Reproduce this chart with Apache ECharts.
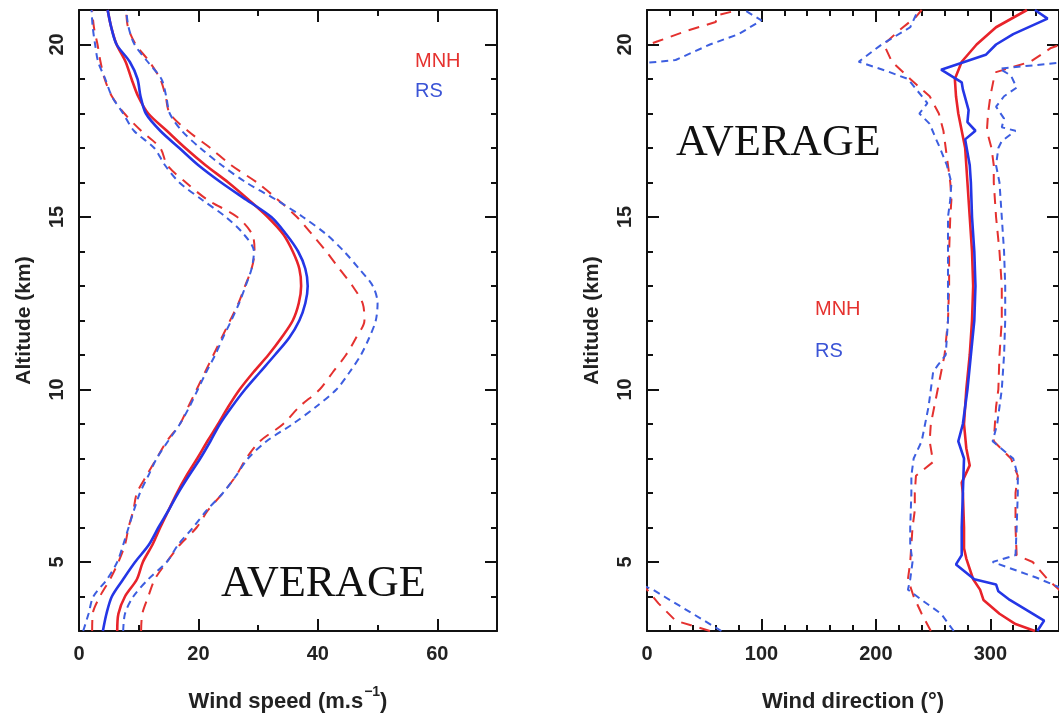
<!DOCTYPE html>
<html>
<head>
<meta charset="utf-8">
<script src="https://cdn.jsdelivr.net/npm/echarts@6/dist/echarts.min.js"></script>
<style>html,body{margin:0;padding:0;background:#fff}#c{width:1059px;height:718px}</style>
</head>
<body>
<div id="c"></div>
<script>
// ---------- Left panel: wind speed profiles (m/s) ----------
const altitudeLevels = [3,3.5,4,4.5,5,5.5,6,6.5,7,7.5,8,8.5,9,9.5,10,10.5,11,11.5,12,12.5,13,13.5,14,14.5,15,15.5,16,16.5,17,17.5,18,18.5,19,19.5,20,20.5,21];
const speedMnhMean = [6.4,6.6,7.7,9.7,10.7,12.3,13.6,15.0,16.4,18.0,19.8,21.5,23.3,25.0,26.9,29.2,31.7,33.9,35.8,36.8,37.2,36.9,35.8,34.2,31.6,28.4,25.0,21.2,17.8,14.7,11.6,9.9,8.8,7.8,6.3,5.4,4.8];
const speedRsMean  = [4.0,4.6,5.5,7.4,9.4,11.7,13.3,15.0,16.6,18.4,20.3,22.0,23.6,25.6,27.8,30.3,32.8,35.2,36.9,37.9,38.3,37.9,36.7,34.7,32.2,28.0,23.8,20.0,16.8,13.6,11.2,10.3,9.8,8.5,6.3,5.4,4.8];
const speedMnhLow  = [2.2,2.3,3.5,5.2,6.6,7.7,8.3,9.1,9.7,11.3,13.0,14.7,16.9,18.3,19.7,21.1,22.5,23.9,25.3,26.7,27.8,28.9,29.4,29.0,26.5,21.5,17.9,14.8,13.6,10.4,7.6,5.5,4.3,3.6,3.1,2.5,2.2];
const speedRsLow   = [0.7,1.6,2.4,4.7,6.4,7.4,8.3,9.2,10.2,11.6,13.0,14.9,16.9,18.5,19.9,21.3,22.8,24.1,25.5,26.8,27.9,28.9,29.3,27.6,24.6,20.6,16.8,14.4,12.6,9.2,7.4,5.5,4.4,3.2,2.7,2.3,2.1];
const speedMnhHigh = [10.4,10.6,11.6,12.7,14.7,16.9,19.7,21.6,24.1,26.3,28.0,30.3,34.2,36.9,40.3,42.5,44.7,46.4,47.8,47.5,45.8,43.6,41.4,39.0,36.5,33.3,29.8,25.5,22.0,18.2,15.2,14.5,13.6,11.8,9.5,8.2,7.9];
const speedRsHigh  = [7.4,7.7,9.1,11.6,14.7,16.6,19.1,21.4,24.1,26.3,28.3,31.4,35.8,39.7,43.1,45.3,47.2,48.6,49.7,50.0,49.2,46.9,44.4,41.4,37.5,33.0,28.0,23.9,20.3,17.2,15.2,14.6,13.8,11.5,9.3,8.3,7.9];

// ---------- Right panel: wind direction profiles (deg; values >360 wrap) ----------
const dirMnhMeanAlt = [3.0,3.2,3.5,3.9,4.2,4.5,5.1,5.4,6,7,7.3,7.8,8.3,9,10,11,12,13,14,15,16,17,18,18.5,19,19.5,20,20.5,21];
const dirMnhMean    = [339,322,308,294,291,285,279,277,277,276,275,282,279,277,279,282,284,285,284,282,280,278,272,270,269,275,288,305,332];
const dirRsMeanAlt  = [3.0,3.3,3.9,4.15,4.35,4.5,4.93,5.2,6,7,8,8.5,9,10,11,12,13,14,15,16,16.5,17.25,17.5,17.75,18.1,18.7,18.9,19.27,19.7,20.0,20.3,20.75,21];
const dirRsMean     = [341,347,317,307,305,286,270,275,275,276,277,272,276,280,283,286,287,286,284,283,282,278,287,280,281,276,275,257,296,305,320,350,339];
const dirMnhLowAlt  = [3.0,3.5,4.0,4.5,5,5.5,6,6.5,7,7.5,7.9,8.5,9,9.5,10,10.5,11,12,13,14,15,15.5,16,16.5,17,17.5,18,18.5,19,19.5,20.0,20.4,20.8,21];
const dirMnhLow     = [248,240,233,228,230,231,232,234,234,235,250,247,248,251,254,257,260,263,264,264,265,266,265,263,261,259,255,247,230,214,207,220,235,240];
const dirRsLowAlt   = [3.0,3.5,3.9,4.2,4.5,5,5.5,6,7,7.5,8,8.5,9,9.5,10,10.5,10.7,11,12,13,14,15,15.5,16,16.5,17,17.3,17.7,18.0,18.3,19.0,19.2,19.5,20.0,20.5,21];
const dirRsLow      = [268,257,240,228,230,232,230,230,231,231,233,240,243,246,248,250,254,261,263,263,263,263,265,266,262,256,252,247,238,245,228,212,185,205,230,237];
const dirMnhHighAlt = [3.0,3.3,3.8,4.2,4.5,5.0,5.2,6,7,7.5,8,8.5,9,9.5,10,11,12,13,14,15,16,16.5,17,17.5,18,18.5,19,19.2,19.5,19.9,20.1,20.4,20.65,20.85,21];
const dirMnhHigh    = [415,385,370,360,350,337,323,322,322,324,318,303,304,305,307,308,310,310,308,305,303,303,301,297,298,300,303,305,335,353,370,395,420,422,440];
const dirRsHighAlt  = [3.0,3.5,4.0,4.2,4.55,5.0,5.2,6,7,7.5,8,8.5,9,9.5,10,11,12,13,14,15,16,16.5,17,17.2,17.5,17.6,17.85,18.2,18.5,18.75,19.1,19.3,19.55,20.0,20.3,20.7,21];
const dirRsHigh     = [425,400,375,365,340,302,322,323,324,324,320,302,306,308,310,312,313,313,312,310,308,305,307,310,322,310,312,305,312,323,318,308,385,415,440,460,445];

// ---------- Tick labels ----------
const altitudeTicks = [5,10,15,20];
const speedTicks = [0,20,40,60];
const directionTicks = [0,100,200,300];

const RED = '#e8232a', BLUE = '#2436e6', RED_D = '#e4312f', BLUE_D = '#3d5ee0';
const AX = '#111';
const SANS = '"Liberation Sans", Arial, sans-serif';

function pairs(xs, alts, shift) { return xs.map((v, i) => [v - (shift || 0), alts[i]]); }

function xAxes(grid, max, step, ticks, nameRich) {
  const base = {gridIndex: grid, type: 'value', min: 0, max: max, splitLine: {show: false}};
  const line = {show: true, onZero: false, lineStyle: {color: AX, width: 2}};
  const noLine = {show: false, onZero: false};
  const tick = (len) => ({show: true, inside: true, length: len, lineStyle: {color: AX, width: 2}});
  return [
    Object.assign({}, base, {position: 'bottom', interval: step, axisLine: line, axisTick: tick(6), axisLabel: {show: false}}),
    Object.assign({}, base, {position: 'bottom', axisLine: noLine,
      axisTick: Object.assign(tick(12), {customValues: ticks}),
      axisLabel: {show: true, customValues: ticks, margin: 13, fontSize: 20, fontWeight: 'bold', color: '#222', fontFamily: SANS},
      name: nameRich, nameLocation: 'middle', nameGap: 54,
      nameTextStyle: {rich: {
        a: {fontSize: 22, fontWeight: 'bold', color: '#222', fontFamily: SANS, verticalAlign: 'bottom', lineHeight: 28},
        s: {fontSize: 14, fontWeight: 'bold', color: '#222', fontFamily: SANS, verticalAlign: 'top', lineHeight: 28, padding: [0, 0, 0, 1]}
      }}}),
    Object.assign({}, base, {position: 'top', interval: step, axisLine: line, axisTick: tick(6), axisLabel: {show: false}}),
    Object.assign({}, base, {position: 'top', axisLine: noLine, axisTick: Object.assign(tick(12), {customValues: ticks}), axisLabel: {show: false}})
  ];
}

function yAxes(grid) {
  const base = {gridIndex: grid, type: 'value', min: 3, max: 21, splitLine: {show: false}};
  const line = {show: true, onZero: false, lineStyle: {color: AX, width: 2}};
  const noLine = {show: false, onZero: false};
  const tick = (len) => ({show: true, inside: true, length: len, lineStyle: {color: AX, width: 2}});
  return [
    Object.assign({}, base, {position: 'left', interval: 1, axisLine: line, axisTick: tick(6), axisLabel: {show: false},
      name: 'Altitude (km)', nameLocation: 'middle', nameGap: 44,
      nameTextStyle: {fontSize: 21, fontWeight: 'bold', color: '#222', fontFamily: SANS}}),
    Object.assign({}, base, {position: 'left', axisLine: noLine, axisTick: Object.assign(tick(12), {customValues: altitudeTicks}),
      axisLabel: {show: true, customValues: altitudeTicks, rotate: 90, margin: 12, fontSize: 20, fontWeight: 'bold', color: '#222', fontFamily: SANS}}),
    Object.assign({}, base, {position: 'right', interval: 1, axisLine: line, axisTick: tick(6), axisLabel: {show: false}}),
    Object.assign({}, base, {position: 'right', axisLine: noLine, axisTick: Object.assign(tick(12), {customValues: altitudeTicks}), axisLabel: {show: false}})
  ];
}

function line(data, color, width, dash, xi, yi, smooth, z) {
  return {type: 'line', data: data, xAxisIndex: xi, yAxisIndex: yi, symbol: 'none', smooth: smooth, clip: true,
    lineStyle: {color: color, width: width, type: dash || 'solid'}, z: z || 2, silent: true, animation: false};
}

const RD = [11, 8], BD = [7, 5];
const series = [
  // left panel
  line(pairs(speedMnhLow, altitudeLevels), RED_D, 2, RD, 0, 0, 0.3),
  line(pairs(speedMnhHigh, altitudeLevels), RED_D, 2, RD, 0, 0, 0.3),
  line(pairs(speedRsLow, altitudeLevels), BLUE_D, 2, BD, 0, 0, 0.3),
  line(pairs(speedRsHigh, altitudeLevels), BLUE_D, 2, BD, 0, 0, 0.3),
  line(pairs(speedMnhMean, altitudeLevels), RED, 2.6, null, 0, 0, 0.3, 3),
  line(pairs(speedRsMean, altitudeLevels), BLUE, 2.6, null, 0, 0, 0.3, 4),
  // right panel (each spread curve drawn twice: raw and wrapped by 360, clipped by the grid)
  line(pairs(dirMnhLow, dirMnhLowAlt), RED_D, 2, RD, 4, 4, false),
  line(pairs(dirMnhHigh, dirMnhHighAlt), RED_D, 2, RD, 4, 4, false),
  line(pairs(dirMnhHigh, dirMnhHighAlt, 360), RED_D, 2, RD, 4, 4, false),
  line(pairs(dirRsLow, dirRsLowAlt), BLUE_D, 2, BD, 4, 4, false),
  line(pairs(dirRsHigh, dirRsHighAlt), BLUE_D, 2, BD, 4, 4, false),
  line(pairs(dirRsHigh, dirRsHighAlt, 360), BLUE_D, 2, BD, 4, 4, false),
  line(pairs(dirMnhMean, dirMnhMeanAlt), RED, 2.6, null, 4, 4, false, 3),
  line(pairs(dirRsMean, dirRsMeanAlt), BLUE, 2.6, null, 4, 4, false, 4)
];

const chart = echarts.init(document.getElementById('c'), null, {renderer: 'canvas'});
chart.setOption({
  backgroundColor: '#fff',
  animation: false,
  grid: [
    {left: 79, top: 10, width: 418, height: 624},
    {left: 647, top: 10, width: 420, height: 624}
  ],
  xAxis: [].concat(
    xAxes(0, 70, 10, speedTicks, '{a|Wind speed (m.s}{s|\u22121}{a|)}'),
    xAxes(1, 360, 20, directionTicks, '{a|Wind direction (\u00b0)}')
  ),
  yAxis: [].concat(yAxes(0), yAxes(1)),
  series: series,
  graphic: [
    {type: 'text', left: 415, top: 51, style: {text: 'MNH', fill: '#e5322f', font: '20px ' + SANS}},
    {type: 'text', left: 415, top: 81, style: {text: 'RS', fill: '#3b54d6', font: '20px ' + SANS}},
    {type: 'text', left: 815, top: 299, style: {text: 'MNH', fill: '#e5322f', font: '20px ' + SANS}},
    {type: 'text', left: 815, top: 341, style: {text: 'RS', fill: '#3b54d6', font: '20px ' + SANS}},
    {type: 'text', left: 221, top: 562, style: {text: 'AVERAGE', fill: '#111', font: '44px "Liberation Serif", "Times New Roman", serif'}},
    {type: 'text', left: 676, top: 121, style: {text: 'AVERAGE', fill: '#111', font: '44px "Liberation Serif", "Times New Roman", serif'}}
  ]
});
</script>
</body>
</html>
